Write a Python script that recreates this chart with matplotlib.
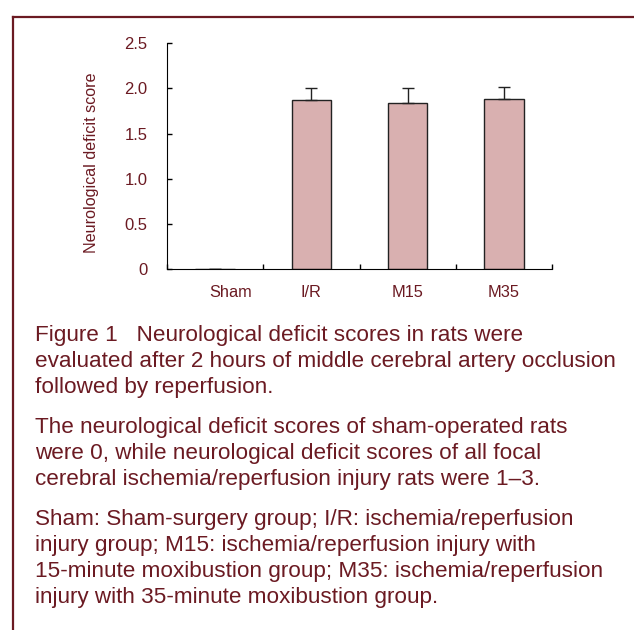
import matplotlib.pyplot as plt
from matplotlib.lines import Line2D
import matplotlib.transforms as mtransforms

groups = ['Sham', 'I/R', 'M15', 'M35']
scores = [0.0, 1.867, 1.837, 1.885]
errors = [0.0, 0.133, 0.163, 0.133]
yticks = [0, 0.5, 1.0, 1.5, 2.0, 2.5]
ytick_labels = ['0', '0.5', '1.0', '1.5', '2.0', '2.5']

caption = [
    ['Figure 1   Neurological deficit scores in rats were',
     'evaluated after 2 hours of middle cerebral artery occlusion',
     'followed by reperfusion.'],
    ['The neurological deficit scores of sham-operated rats',
     'were 0, while neurological deficit scores of all focal',
     'cerebral ischemia/reperfusion injury rats were 1\u20133.'],
    ['Sham: Sham-surgery group; I/R: ischemia/reperfusion',
     'injury group; M15: ischemia/reperfusion injury with',
     '15-minute moxibustion group; M35: ischemia/reperfusion',
     'injury with 35-minute moxibustion group.'],
]

maroon = '#6b1a22'
plt.rcParams['font.family'] = ['Liberation Sans', 'DejaVu Sans']

W, H = 634, 630
fig = plt.figure(figsize=(W / 100, H / 100), dpi=100)

# frame (only top and left edges visible)
fig.add_artist(Line2D([12.5 / W, 12.5 / W], [-0.1, 1 - 16.5 / H],
                      transform=fig.transFigure, color=maroon, lw=1.6))
fig.add_artist(Line2D([12.5 / W, 1.1], [1 - 16.5 / H, 1 - 16.5 / H],
                      transform=fig.transFigure, color=maroon, lw=1.6))

ax = fig.add_axes([167 / W, 1 - 269.3 / H, 385 / W, 226.3 / H])
x = range(len(groups))
ax.bar(x, scores, width=0.41, color='#d9b0b0', edgecolor='#222222', linewidth=1.0)
ax.errorbar(x, scores, yerr=[[0] * len(errors), errors], fmt='none',
            ecolor='#222222', elinewidth=1.0, capsize=4, capthick=1.0)

ax.set_xlim(-0.5, len(groups) - 0.5)
ax.set_ylim(0, 2.5)
ax.spines['top'].set_visible(False)
ax.spines['right'].set_visible(False)
ax.set_yticks(yticks)
ax.set_yticklabels(ytick_labels)
ax.set_xticks(list(x))
ax.set_xticklabels(groups)
ax.set_xticks([i - 0.5 for i in range(len(groups) + 1)], minor=True)
ax.tick_params(axis='x', which='major', length=0, pad=11, labelsize=11.8, labelcolor=maroon)
ax.tick_params(axis='x', which='minor', direction='in', length=3.5, width=1)
ax.tick_params(axis='y', direction='in', length=3.5, width=1, pad=14,
               labelsize=12, labelcolor=maroon)
# Sham label sits a little right of its slot
off = mtransforms.ScaledTranslation(16 / 100, 0, fig.dpi_scale_trans)
lab = ax.get_xticklabels()[0]
lab.set_transform(lab.get_transform() + off)

ax.set_ylabel('Neurological deficit score', fontsize=11.6, color=maroon, va='center')
ax.yaxis.set_label_coords(-0.195, 0.47)

# caption
baselines = [[340.7, 366.7, 392.7], [433, 459, 485], [525, 551, 577, 603]]
for para, ys in zip(caption, baselines):
    for line, yb in zip(para, ys):
        fig.text(35 / W, 1 - yb / H, line, fontsize=16.2, color=maroon,
                 ha='left', va='baseline')

fig.savefig('out.png', dpi=100)
